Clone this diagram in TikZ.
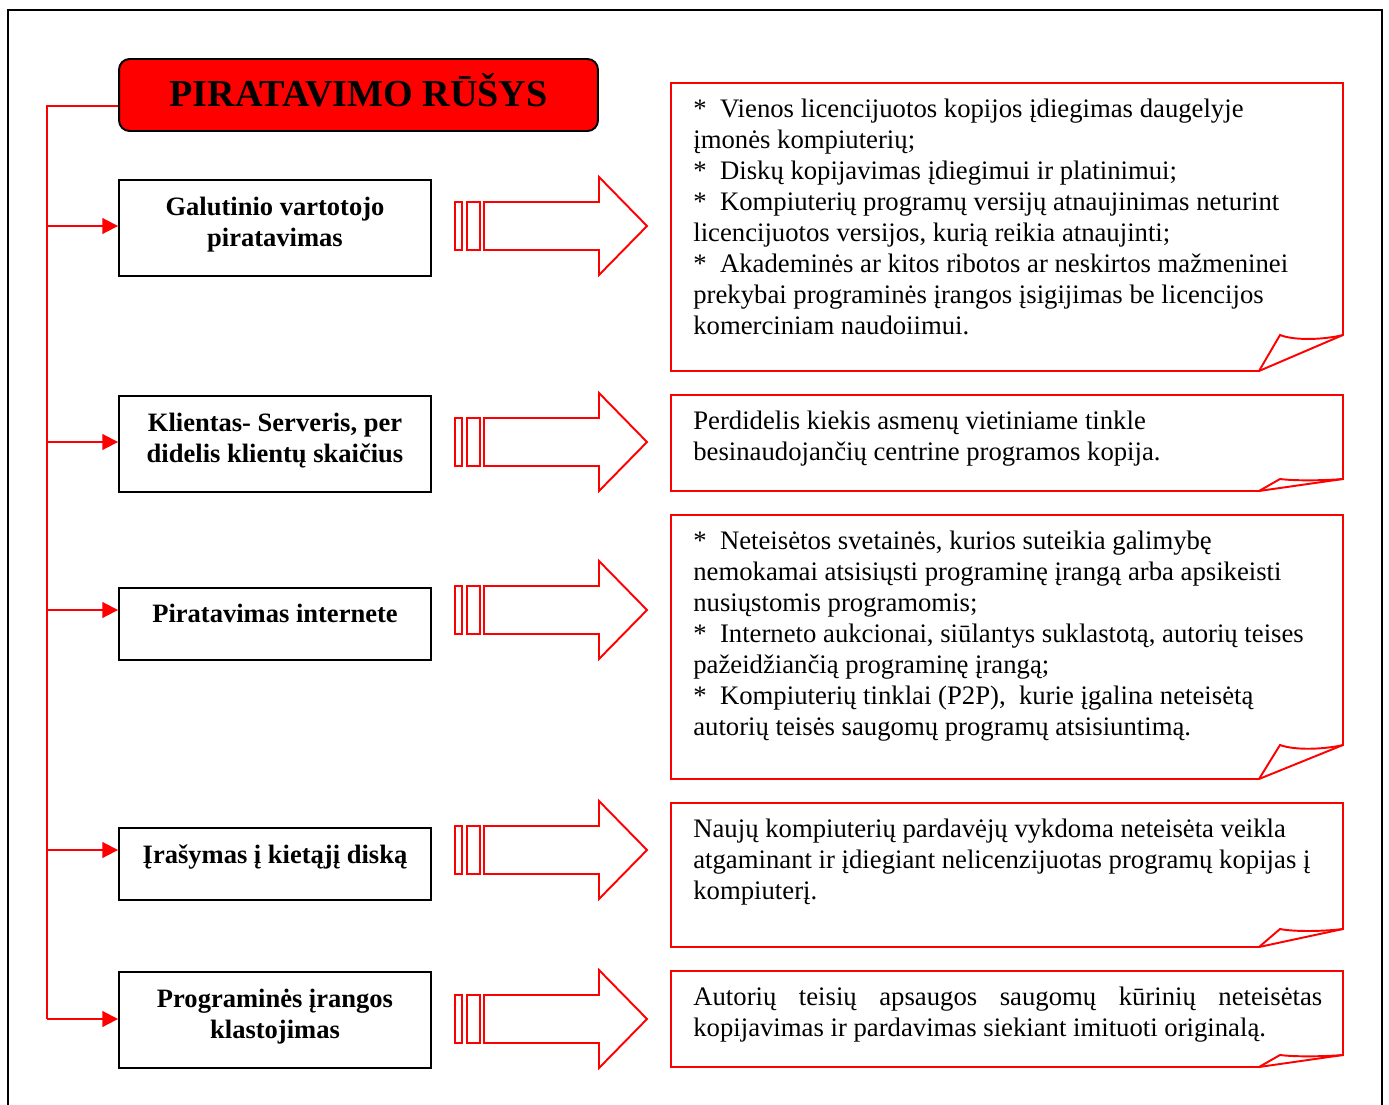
\documentclass[tikz,border=0pt]{standalone}
\usepackage{fontspec}
\setmainfont{Liberation Serif}
\usetikzlibrary{arrows.meta, positioning}

\tikzset{
  frame/.style={line width=1.2pt},
  kind/.style={draw, line width=1.1pt, minimum width=6.24cm, align=center, text depth=7pt,
    font=\fontsize{15.1}{17.6}\selectfont\bfseries},
  trunk/.style={red, line width=1.1pt},
  branch/.style={trunk, -{Triangle[length=9pt, width=9pt]}},
  note/.style={red, line width=1.1pt, line join=miter},
  notetext/.style={anchor=north west, inner sep=0pt, align=left,
    font=\fontsize{15.2}{17.6}\selectfont},
  block/.style={red, line width=1.1pt}
}

\begin{document}
\begin{tikzpicture}[x=0.02cm, y=-0.02cm]
    \useasboundingbox (0,0) rectangle (1389,1105);
    \draw[frame] (8,1105) -- (8,10) -- (1382,10) -- (1382,1105);

    % title
    \node[draw, fill=red, line width=1.1pt, rounded corners=6pt,
      minimum width=9.58cm, minimum height=1.44cm, text depth=6pt,
      font=\fontsize{21.7}{24}\selectfont\bfseries] (title) at (358.5,95) {PIRATAVIMO RŪŠYS};

    % kinds of piracy
    \node[kind, minimum height=1.92cm, anchor=north] (g1) at (275,179) {Galutinio vartotojo\\piratavimas};
    \node[kind, minimum height=1.92cm, anchor=north] (g2) at (275,395) {Klientas- Serveris, per\\didelis klientų skaičius};
    \node[kind, minimum height=1.44cm, anchor=north, text depth=12pt] (g3) at (275,587) {Piratavimas internete};
    \node[kind, minimum height=1.44cm, anchor=north, text depth=11pt] (g4) at (275,827) {Įrašymas į kietąjį diską};
    \node[kind, minimum height=1.92cm, anchor=north] (g5) at (275,971) {Programinės įrangos\\klastojimas};

    \coordinate (top) at (47,106);
    \coordinate (r1) at (47,226);
    \coordinate (r2) at (47,442);
    \coordinate (r3) at (47,610);
    \coordinate (r4) at (47,850);
    \coordinate (r5) at (47,1019);

    \draw[trunk] (title.west |- top) -- (top) -- (r5);
    \draw[branch] (r1) -- (g1.west |- r1);
    \draw[branch] (r2) -- (g2.west |- r2);
    \draw[branch] (r3) -- (g3.west |- r3);
    \draw[branch] (r4) -- (g4.west |- r4);
    \draw[branch] (r5) -- (g5.west |- r5);

    % block arrows
    \foreach \c in {226,442,610,850,1019} {
        \draw[block] (455,\c-24) rectangle (462,\c+24);
        \draw[block] (467,\c-24) rectangle (480,\c+24);
        \draw[block] (484,\c-24) -- (599,\c-24) -- (599,\c-49) -- (647,\c)
            -- (599,\c+49) -- (599,\c+24) -- (484,\c+24) -- cycle;
    }

    % notes with folded corner
    \foreach \t/\b/\f in {83/371/36, 395/491/12, 515/779/34, 803/947/18, 971/1067/12} {
        \draw[note] (671,\t) -- (1343,\t) -- (1343,\b-\f) -- (1259,\b) -- (671,\b) -- cycle;
        \draw[note] (1259,\b) -- (1280,\b-\f)
            .. controls (1295,\b-\f+\f/6) and (1325,\b-\f+\f/8) .. (1343,\b-\f);
    }

    \node[notetext] (n1) at (693,99) {*\ \ Vienos licencijuotos kopijos įdiegimas daugelyje\\
        įmonės kompiuterių;\\
        *\ \ Diskų kopijavimas įdiegimui ir platinimui;\\
        *\ \ Kompiuterių programų versijų atnaujinimas neturint\\
        licencijuotos versijos, kurią reikia atnaujinti;\\
        *\ \ Akademinės ar kitos ribotos ar neskirtos mažmeninei\\
        prekybai programinės įrangos įsigijimas be licencijos\\
        komerciniam naudoiimui.};
    \node[notetext] (n2) at (693,411) {Perdidelis kiekis asmenų vietiniame tinkle\\
        besinaudojančių centrine programos kopija.};
    \node[notetext] (n3) at (693,531) {*\ \ Neteisėtos svetainės, kurios suteikia galimybę\\
        nemokamai atsisiųsti programinę įrangą arba apsikeisti\\
        nusiųstomis programomis;\\
        *\ \ Interneto aukcionai, siūlantys suklastotą, autorių teises\\
        pažeidžiančią programinę įrangą;\\
        *\ \ Kompiuterių tinklai (P2P),\ \ kurie įgalina neteisėtą\\
        autorių teisės saugomų programų atsisiuntimą.};
    \node[notetext] (n4) at (693,819) {Naujų kompiuterių pardavėjų vykdoma neteisėta veikla\\
        atgaminant ir įdiegiant nelicenzijuotas programų kopijas į\\
        kompiuterį.};
    \node[notetext, text width=12.58cm, align=justify] (n5) at (693,987) {Autorių teisių apsaugos saugomų kūrinių neteisėtas\linebreak
        kopijavimas ir pardavimas siekiant imituoti originalą.};
\end{tikzpicture}
\end{document}
